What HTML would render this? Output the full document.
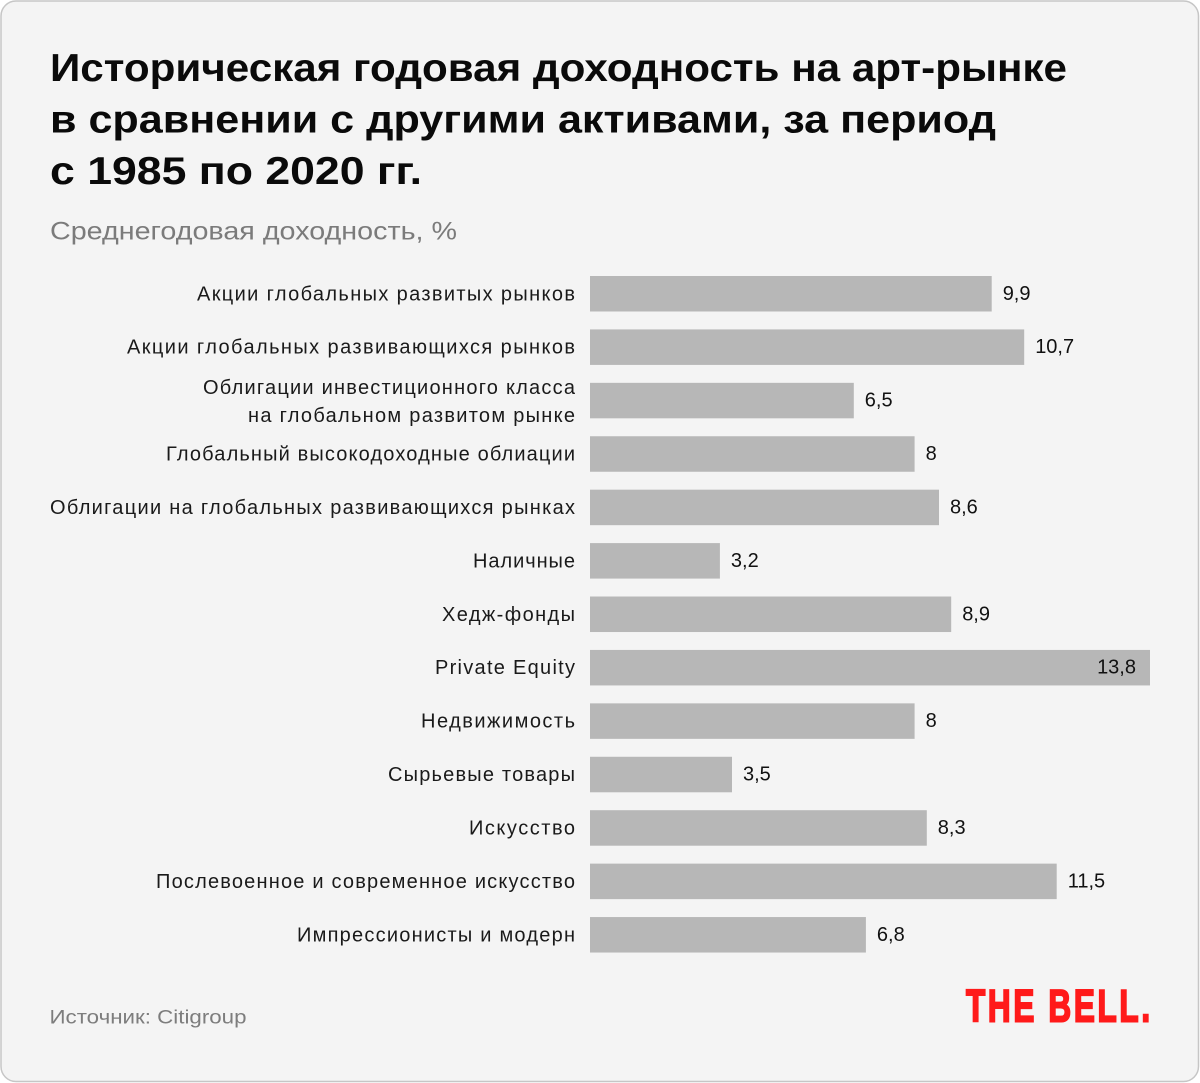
<!DOCTYPE html>
<html>
<head>
<meta charset="utf-8">
<style>
  html,body{margin:0;padding:0;background:#ffffff;}
  svg{display:block;}
  text{font-family:"Liberation Sans","Noto Sans CJK SC",sans-serif;}
</style>
</head>
<body>
<svg width="1200" height="1083" viewBox="0 0 1200 1083" xmlns="http://www.w3.org/2000/svg">
  <rect x="1" y="1" width="1197.5" height="1080.5" rx="15" ry="15" fill="#f4f4f4" stroke="#c6c6c6" stroke-width="1.5"/>

  <!-- Title -->
  <g fill="#0a0a0a" font-weight="bold" font-size="39">
    <text x="50" y="81" textLength="1017" lengthAdjust="spacingAndGlyphs">Историческая годовая доходность на арт-рынке</text>
    <text x="50" y="132.5" textLength="946" lengthAdjust="spacingAndGlyphs">в сравнении с другими активами, за период</text>
    <text x="50" y="184" textLength="372" lengthAdjust="spacingAndGlyphs">с 1985 по 2020 гг.</text>
  </g>

  <!-- Subtitle -->
  <text x="50" y="239.5" font-size="25" fill="#7b7b7b" textLength="407" lengthAdjust="spacingAndGlyphs">Среднегодовая доходность, %</text>

  <!-- Bars -->
  <g fill="#b7b7b7">
    <rect x="590" y="276" width="401.7" height="35.5"/>
    <rect x="590" y="329.42" width="434.2" height="35.5"/>
    <rect x="590" y="382.84" width="263.8" height="35.5"/>
    <rect x="590" y="436.26" width="324.6" height="35.5"/>
    <rect x="590" y="489.68" width="349.0" height="35.5"/>
    <rect x="590" y="543.1" width="129.9" height="35.5"/>
    <rect x="590" y="596.52" width="361.2" height="35.5"/>
    <rect x="590" y="649.94" width="560" height="35.5"/>
    <rect x="590" y="703.36" width="324.6" height="35.5"/>
    <rect x="590" y="756.78" width="142.0" height="35.5"/>
    <rect x="590" y="810.2" width="336.8" height="35.5"/>
    <rect x="590" y="863.62" width="466.7" height="35.5"/>
    <rect x="590" y="917.04" width="275.9" height="35.5"/>
  </g>

  <!-- Category labels -->
  <g font-size="20" fill="#1a1a1a" text-anchor="end">
    <text x="575" y="300.25" textLength="378">Акции глобальных развитых рынков</text>
    <text x="575" y="353.67" textLength="448">Акции глобальных развивающихся рынков</text>
    <text x="575" y="393.8" textLength="372">Облигации инвестиционного класса</text>
    <text x="575" y="421.8" textLength="327">на глобальном развитом рынке</text>
    <text x="575" y="460.51" textLength="409">Глобальный высокодоходные облиации</text>
    <text x="575" y="513.93" textLength="525">Облигации на глобальных развивающихся рынках</text>
    <text x="575" y="567.35" textLength="102">Наличные</text>
    <text x="575" y="620.77" textLength="133">Хедж-фонды</text>
    <text x="575" y="674.19" textLength="140">Private Equity</text>
    <text x="575" y="727.61" textLength="154">Недвижимость</text>
    <text x="575" y="781.03" textLength="187">Сырьевые товары</text>
    <text x="575" y="834.45" textLength="106">Искусство</text>
    <text x="575" y="887.87" textLength="419">Послевоенное и современное искусство</text>
    <text x="575" y="941.29" textLength="278">Импрессионисты и модерн</text>
  </g>

  <!-- Value labels -->
  <g font-size="20" fill="#111111">
    <text x="1002.7" y="299.75">9,9</text>
    <text x="1035.2" y="353.17">10,7</text>
    <text x="864.8" y="406.59">6,5</text>
    <text x="925.6" y="460.01">8</text>
    <text x="950.0" y="513.43">8,6</text>
    <text x="730.9" y="566.85">3,2</text>
    <text x="962.2" y="620.27">8,9</text>
    <text x="1136" y="673.69" text-anchor="end">13,8</text>
    <text x="925.6" y="727.11">8</text>
    <text x="743.0" y="780.53">3,5</text>
    <text x="937.8" y="833.95">8,3</text>
    <text x="1067.7" y="887.37">11,5</text>
    <text x="876.9" y="940.79">6,8</text>
  </g>

  <!-- Source -->
  <text x="49.5" y="1023.3" font-size="19.5" fill="#7d7d7d" textLength="197" lengthAdjust="spacingAndGlyphs">Источник: Citigroup</text>

  <!-- Logo -->
  <text transform="translate(966,1021.5) scale(0.7,1)" x="0" y="0" font-size="45" font-weight="900" fill="#ff1a1a" stroke="#ff1a1a" stroke-width="2" textLength="263" lengthAdjust="spacing">THE BELL.</text>
</svg>
</body>
</html>
